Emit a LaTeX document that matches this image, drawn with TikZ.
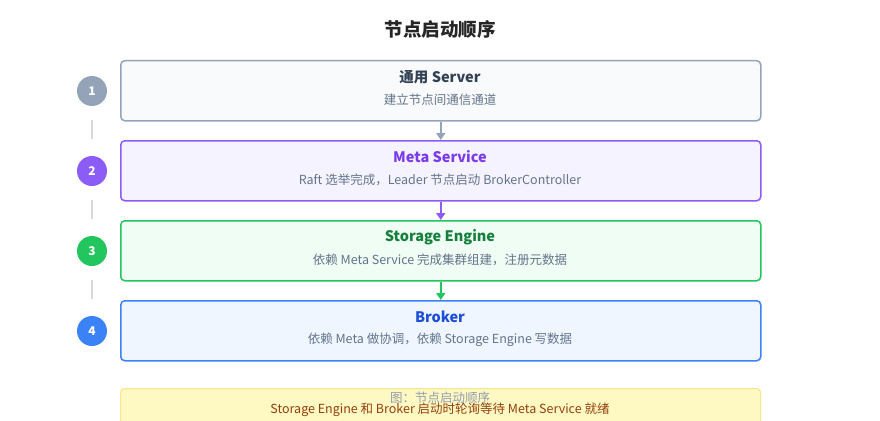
\documentclass[tikz,border=0pt]{standalone}
\usepackage{fontspec}
\setmainfont{Noto Sans CJK SC}
\usetikzlibrary{arrows.meta}
\definecolor{gB}{HTML}{94A3B8}\definecolor{gF}{HTML}{F8FAFC}\definecolor{gT}{HTML}{334155}
\definecolor{pB}{HTML}{8B5CF6}\definecolor{pF}{HTML}{F5F3FF}\definecolor{pT}{HTML}{7C3AED}
\definecolor{eB}{HTML}{22C55E}\definecolor{eF}{HTML}{F0FDF4}\definecolor{eT}{HTML}{15803D}
\definecolor{bB}{HTML}{3B82F6}\definecolor{bF}{HTML}{EFF6FF}\definecolor{bT}{HTML}{1D4ED8}
\definecolor{sub}{HTML}{64748B}\definecolor{yF}{HTML}{FEF9C3}\definecolor{yB}{HTML}{FDE68A}\definecolor{yT}{HTML}{92400E}
\tikzset{x=1pt,y=-1pt,
 stepbox/.style={draw=#1B,fill=#1F,line width=1.5pt,rounded corners=4pt,minimum width=640pt,minimum height=60pt,anchor=north west,inner sep=0pt},
 num/.style={circle,fill=#1,minimum size=30pt,inner sep=0pt,text=white,font=\bfseries\fontsize{12}{12}\selectfont},
 hd/.style={font=\bfseries\fontsize{14.5}{14.5}\selectfont,text=#1},
 sb/.style={font=\fontsize{12.5}{12.5}\selectfont,text=sub},
 arr/.style={draw=#1,line width=1.5pt,-{Triangle[length=7pt,width=9pt]}},
 dl/.style={draw=gB!40,line width=1.5pt}}
\begin{document}
\begin{tikzpicture}
\useasboundingbox (0,0) rectangle (880,420);
\clip (0,0) rectangle (880,420);
\node[font=\bfseries\fontsize{18.5}{18.5}\selectfont,text=black!85] (title) at (440,29) {节点启动顺序};
\foreach \i/\c/\y in {1/g/60,2/p/140,3/e/220,4/b/300}{
  \node[stepbox=\c] (b\i) at (120,\y) {};
  \node[num=\c B] (n\i) at (92,\y+31) {\i};
}
\node[hd=gT] at (440,77) {通用 Server};
\node[sb] at (440,100) {建立节点间通信通道};
\node[hd=pT] at (440,157) {Meta Service};
\node[sb] at (440,180) {Raft 选举完成，Leader 节点启动 BrokerController};
\node[hd=eT] at (440,237) {Storage Engine};
\node[sb] at (440,260) {依赖 Meta Service 完成集群组建，注册元数据};
\node[hd=bT] at (440,317) {Broker};
\node[sb] at (440,340) {依赖 Meta 做协调，依赖 Storage Engine 写数据};
\draw[arr=gB] (b1.south) -- (b2.north);
\draw[arr=pB] (b2.south) -- (b3.north);
\draw[arr=eB] (b3.south) -- (b4.north);
\foreach \y in {120,200,280}{\coordinate (t\y) at (92,\y); \coordinate (u\y) at (92,\y+19); \draw[dl] (t\y) -- (u\y);}
\node[draw=yB,fill=yF,line width=1.2pt,rounded corners=4pt,minimum width=640pt,minimum height=50pt,anchor=north west] (note) at (120,388) {};
\node[font=\fontsize{12.5}{12.5}\selectfont,text=yT] at (440,410) {Storage Engine 和 Broker 启动时轮询等待 Meta Service 就绪};
\node[font=\fontsize{12.5}{12.5}\selectfont,text=sub!70] (cap) at (440,398) {图：节点启动顺序};
\end{tikzpicture}
\end{document}
